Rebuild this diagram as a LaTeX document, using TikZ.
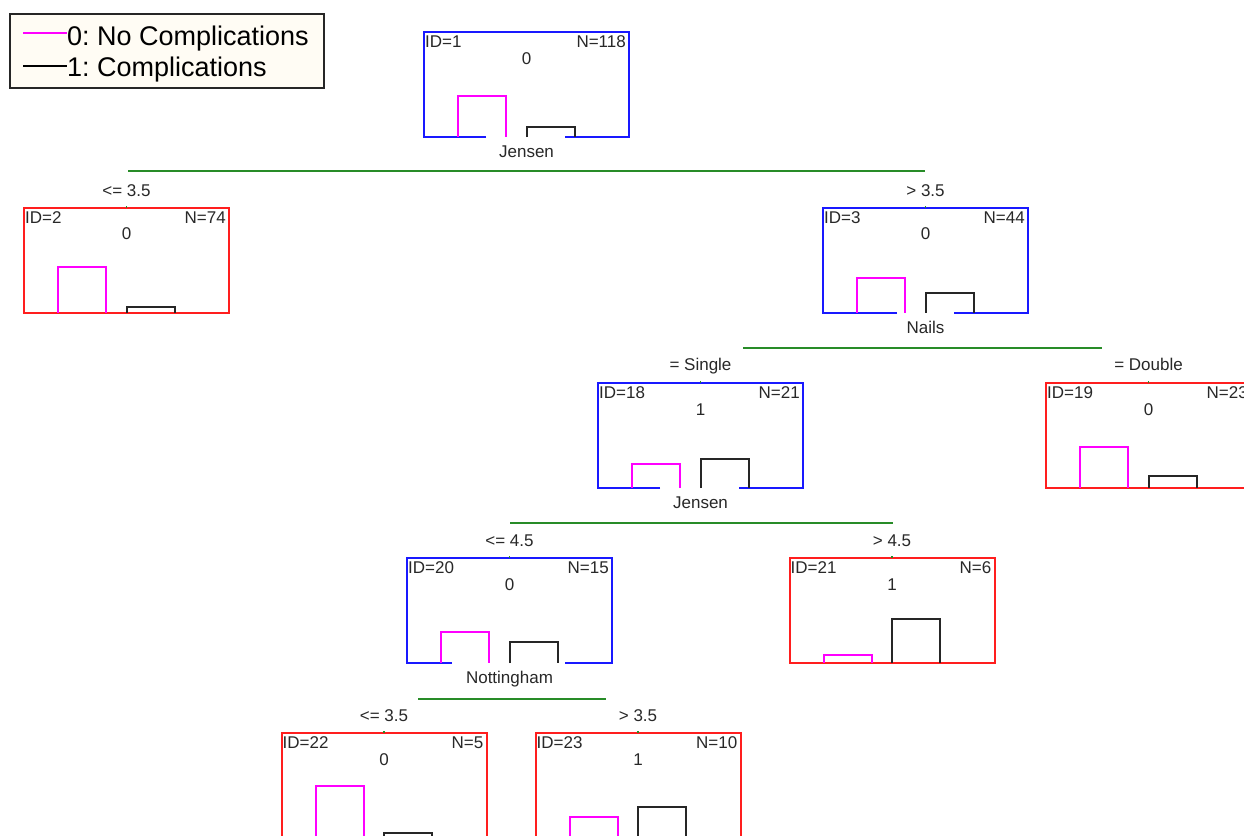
\documentclass[tikz,border=0pt]{standalone}
\usepackage{fontspec}
\setmainfont{Liberation Sans}
\usetikzlibrary{calc}
\frenchspacing
\definecolor{tblue}{RGB}{25,25,255}
\definecolor{tred}{RGB}{255,30,30}
\definecolor{tmag}{RGB}{255,0,255}
\definecolor{tgreen}{RGB}{40,140,40}
\definecolor{ttext}{RGB}{40,40,40}
\definecolor{legbg}{RGB}{255,252,244}
\newcommand\TNinfo[4]{%
  \node[small, anchor=base west] (#1id) at ($(#1.north west)+(1,15.5)$) {ID=#2};
  \node[small, anchor=base east] (#1n) at ($(#1.north east)+(-3,15.5)$) {N=#3};
  \node[small, anchor=base] (#1c) at ($(#1.north)+(0,32)$) {#4};}
\newcommand\TNbars[3]{%
  \draw[magbar] ($(#1.south west)+(34,0)$) -- ++(0,-#2) -- ++(48,0) -- ++(0,#2);
  \draw[blkbar] ($(#1.south west)+(102.5,0)$) -- ++(0,-#3) -- ++(48,0) -- ++(0,#3);}
\newcommand\TNdec[3]{%
  \draw[decline] ($(#1.south)+(-#2,0)$) -| (#1.north west) -| (#1.south east) -- ($(#1.south)+(#3,0)$);}
\begin{document}
\begin{tikzpicture}[x=1pt,y=-1pt,
  box/.style={rectangle, minimum width=205pt, minimum height=105pt, inner sep=0pt, outer sep=0pt},
  leafbox/.style={box, draw=tred, line width=2pt},
  decbox/.style={box},
  decline/.style={draw=tblue, line width=2pt},
  magbar/.style={draw=tmag, line width=2pt},
  blkbar/.style={draw=black!85, line width=2pt},
  splitline/.style={draw=tgreen, line width=2.5pt},
  tickline/.style={draw=tgreen, line width=1.5pt},
  small/.style={font=\fontsize{17}{20}\selectfont, text=ttext, inner sep=0pt},
  legtext/.style={font=\fontsize{27}{30}\selectfont, text=black, inner sep=0pt},
  legline/.style={line width=2pt}
]
\useasboundingbox (0,0) rectangle (1244,835);
\clip (0,0) rectangle (1244,835);
\fill[white] (0,0) rectangle (1244,835);

% legend
\node[draw=black!85, line width=1.6pt, fill=legbg, minimum width=314pt, minimum height=74pt,
      anchor=north west, inner sep=0pt] (legend) at (9,13) {};
\coordinate (lg0) at ($(legend.north west)+(14,20)$);
\coordinate (lg1) at ($(legend.north west)+(14,53)$);
\draw[legline, tmag] (lg0) -- ++(44,0) coordinate (lg0e);
\draw[legline, black] (lg1) -- ++(44,0) coordinate (lg1e);
\node[legtext, anchor=base west] (leg0) at ($(lg0e)+(0,12)$) {0: No Complications};
\node[legtext, anchor=base west] (leg1) at ($(lg1e)+(0,10)$) {1: Complications};

% tree nodes
\node[decbox] (n1) at (526.5,84.5) {};
\node[leafbox] (n2) at (126.5,260) {};
\node[decbox] (n3) at (925.5,260) {};
\node[decbox] (n18) at (700.5,435.5) {};
\node[leafbox] (n19) at (1148.5,435.5) {};
\node[decbox] (n20) at (509.5,610.5) {};
\node[leafbox] (n21) at (892,610.5) {};
\node[leafbox] (n22) at (384,785.5) {};
\node[leafbox] (n23) at (638,785.5) {};

% decision box borders
\TNdec{n1}{40.5}{38.5}
\TNdec{n3}{28.5}{28.5}
\TNdec{n18}{40.5}{38.5}
\TNdec{n20}{57.5}{55.5}

% bars
\TNbars{n1}{41}{10}
\TNbars{n2}{46}{6}
\TNbars{n3}{35}{20}
\TNbars{n18}{24}{29}
\TNbars{n19}{41}{12}
\TNbars{n20}{31}{21}
\TNbars{n21}{8}{44}
\TNbars{n22}{52}{5}
\TNbars{n23}{21}{31}

% texts
\TNinfo{n1}{1}{118}{0}
\TNinfo{n2}{2}{74}{0}
\TNinfo{n3}{3}{44}{0}
\TNinfo{n18}{18}{21}{1}
\TNinfo{n19}{19}{23}{0}
\TNinfo{n20}{20}{15}{0}
\TNinfo{n21}{21}{6}{1}
\TNinfo{n22}{22}{5}{0}
\TNinfo{n23}{23}{10}{1}

% split variable labels
\node[small, anchor=base] (n1v) at ($(n1.south)+(0,20.5)$) {Jensen};
\node[small, anchor=base] (n3v) at ($(n3.south)+(0,20.5)$) {Nails};
\node[small, anchor=base] (n18v) at ($(n18.south)+(0,20.5)$) {Jensen};
\node[small, anchor=base] (n20v) at ($(n20.south)+(0,20.5)$) {Nottingham};

% split lines
\coordinate (s1l) at (128,171);   \coordinate (s1r) at (925,171);
\coordinate (s3l) at (743,348);   \coordinate (s3r) at (1102,348);
\coordinate (s18l) at (510,523);  \coordinate (s18r) at (893,523);
\coordinate (s20l) at (418,699);  \coordinate (s20r) at (606,699);
\draw[splitline] (s1l) -- (s1r);
\draw[splitline] (s3l) -- (s3r);
\draw[splitline] (s18l) -- (s18r);
\draw[splitline] (s20l) -- (s20r);

% ticks on child tops
\foreach \c in {n2,n3,n18,n19,n20,n21,n22,n23}{
  \draw[tickline] (\c.north) -- ++(0,-2);
}

% edge labels
\node[small, anchor=base] (n2e) at ($(n2.north)+(0,-11.5)$) {<= 3.5};
\node[small, anchor=base] (n3e) at ($(n3.north)+(0,-11.5)$) {> 3.5};
\node[small, anchor=base] (n18e) at ($(n18.north)+(0,-13)$) {= Single};
\node[small, anchor=base] (n19e) at ($(n19.north)+(0,-13)$) {= Double};
\node[small, anchor=base] (n20e) at ($(n20.north)+(0,-11.5)$) {<= 4.5};
\node[small, anchor=base] (n21e) at ($(n21.north)+(0,-11.5)$) {> 4.5};
\node[small, anchor=base] (n22e) at ($(n22.north)+(0,-11.5)$) {<= 3.5};
\node[small, anchor=base] (n23e) at ($(n23.north)+(0,-11.5)$) {> 3.5};
\end{tikzpicture}
\end{document}
